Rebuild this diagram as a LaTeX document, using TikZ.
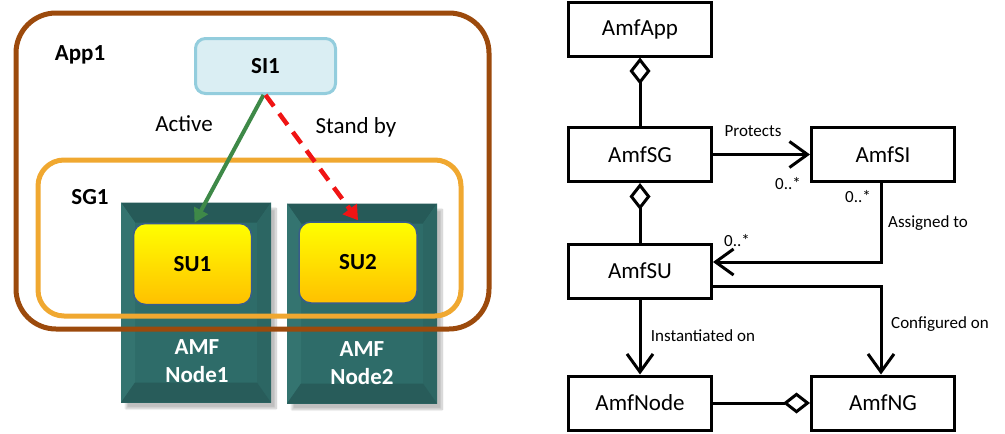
\documentclass[tikz,border=0pt]{standalone}
\usepackage{fontspec}
\setmainfont{Carlito}
\usetikzlibrary{arrows.meta,shadows.blur}

\definecolor{appbrown}{RGB}{156,74,12}
\definecolor{sgorange}{RGB}{240,168,48}
\definecolor{siblue}{RGB}{218,238,243}
\definecolor{siedge}{RGB}{147,205,221}
\definecolor{suedge}{RGB}{56,93,138}
\definecolor{suamber}{RGB}{255,192,0}
\definecolor{tealface}{RGB}{46,108,105}
\definecolor{tealtop}{RGB}{38,90,88}
\definecolor{tealleft}{RGB}{52,116,112}
\definecolor{tealright}{RGB}{44,102,99}
\definecolor{tealbottom}{RGB}{40,92,90}
\definecolor{activegreen}{RGB}{62,137,72}
\definecolor{standbyred}{RGB}{240,20,20}

\tikzset{
  big/.style={font=\fontsize{23}{28}\selectfont},
  small/.style={font=\fontsize{17}{20}\selectfont},
  hostbox/.style={rectangle, inner sep=0pt, minimum width=150pt, minimum height=200pt,
    fill=tealface, text=white, align=center,
    blur shadow={shadow xshift=5pt, shadow yshift=-6pt, shadow blur steps=12, shadow opacity=25},
    path picture={
      \coordinate (nw) at (path picture bounding box.north west);
      \coordinate (ne) at (path picture bounding box.north east);
      \coordinate (sw) at (path picture bounding box.south west);
      \coordinate (se) at (path picture bounding box.south east);
      \fill[tealtop] (nw) -- (ne) -- ([shift={(-14pt,-20pt)}]ne) -- ([shift={(14pt,-20pt)}]nw) -- cycle;
      \fill[tealleft] (nw) -- ([shift={(14pt,-20pt)}]nw) -- ([shift={(14pt,20pt)}]sw) -- (sw) -- cycle;
      \fill[tealright] (ne) -- ([shift={(-14pt,-20pt)}]ne) -- ([shift={(-14pt,20pt)}]se) -- (se) -- cycle;
      \fill[tealbottom] (sw) -- (se) -- ([shift={(-14pt,20pt)}]se) -- ([shift={(14pt,20pt)}]sw) -- cycle;
    }},
  hostlabel/.style={text=white, align=center, font=\bfseries\fontsize{23}{28}\selectfont},
  unitbox/.style={rectangle, rounded corners=12pt, minimum width=118pt, minimum height=81pt,
    top color=yellow, bottom color=suamber, draw=suedge, line width=1.5pt,
    font=\bfseries\fontsize{23}{28}\selectfont},
  instbox/.style={rectangle, rounded corners=10pt, minimum width=140pt, minimum height=55pt,
    fill=siblue, draw=siedge, line width=3pt, font=\bfseries\fontsize{23}{28}\selectfont},
  grouplabel/.style={font=\bfseries\fontsize{23}{28}\selectfont},
  umlbox/.style={rectangle, draw, line width=3pt, minimum width=143pt, minimum height=54pt,
    inner sep=0pt, big},
  uml/.style={line width=3pt},
  aggr/.style={{Diamond[open,length=27pt,width=21pt]}-},
  aggrend/.style={-{Diamond[open,length=27pt,width=21pt]}},
  nav/.style={-{Straight Barb[length=18pt,width=26pt]}},
}

\begin{document}
\begin{tikzpicture}[x=1pt,y=-1pt]
\useasboundingbox (0,0) rectangle (1005,434);

% ---- deployment view ----
\node[hostbox] (host1) at (196,302.5) {};
\node[hostbox] (host2) at (362,303.5) {};
\node[hostlabel] (host1lbl) at (197,361) {AMF\\Node1};
\node[hostlabel] (host2lbl) at (362,363) {AMF\\Node2};

\draw[appbrown, line width=5pt, rounded corners=40pt] (16,13) rectangle (489,329);
\draw[sgorange, line width=5pt, rounded corners=26pt] (38,160) rectangle (461,316);

\node[unitbox] (su1) at (192.5,264) {SU1};
\node[unitbox] (su2) at (358,262.5) {SU2};
\node[instbox] (si1) at (265.5,66) {SI1};

\node[grouplabel] (applbl) at (80,55) {App1};
\node[grouplabel] (sglbl) at (90,197) {SG1};
\node[big] (activelbl) at (184,124) {Active};
\node[big] (standbylbl) at (356,127) {Stand by};

\draw[activegreen, line width=4pt, -{Triangle[length=14pt,width=15pt]}]
  ([xshift=-2pt]si1.south) -- ([xshift=2pt]su1.north);
\draw[standbyred, line width=4.5pt, dash pattern=on 14pt off 9pt, -{Triangle[length=14pt,width=17pt]}]
  ([xshift=0pt]si1.south) -- ([yshift=1pt]su2.north);

% ---- class view ----
\node[umlbox] (app) at (640,29) {AmfApp};
\node[umlbox] (sg) at (640,154.5) {AmfSG};
\node[umlbox] (si) at (883,154.5) {AmfSI};
\node[umlbox] (su) at (640,271) {AmfSU};
\node[umlbox] (nd) at (640,403) {AmfNode};
\node[umlbox] (ng) at (883,403) {AmfNG};

\draw[uml, aggr] (app) -- (sg);
\draw[uml, aggr] (sg) -- (su);
\draw[uml, nav] (sg) -- (si);
\draw[uml, nav] ([xshift=-2pt]si.south) |- ([yshift=9pt]su.east);
\draw[uml, nav] ([yshift=-15pt]su.east) -| ([xshift=-2pt]ng.north);
\draw[uml, nav] (su) -- (nd);
\draw[uml, aggrend] (nd) -- (ng);

\node[small] (protlbl) at (753,131) {Protects};
\node[small] (mult1) at (788,184) {0..*};
\node[small] (mult2) at (858,197) {0..*};
\node[small] (asglbl) at (928,223) {Assigned to};
\node[small] (mult3) at (737,241) {0..*};
\node[small] (cfglbl) at (940,324) {Configured on};
\node[small] (instlbl) at (703,336) {Instantiated on};
\end{tikzpicture}
\end{document}
